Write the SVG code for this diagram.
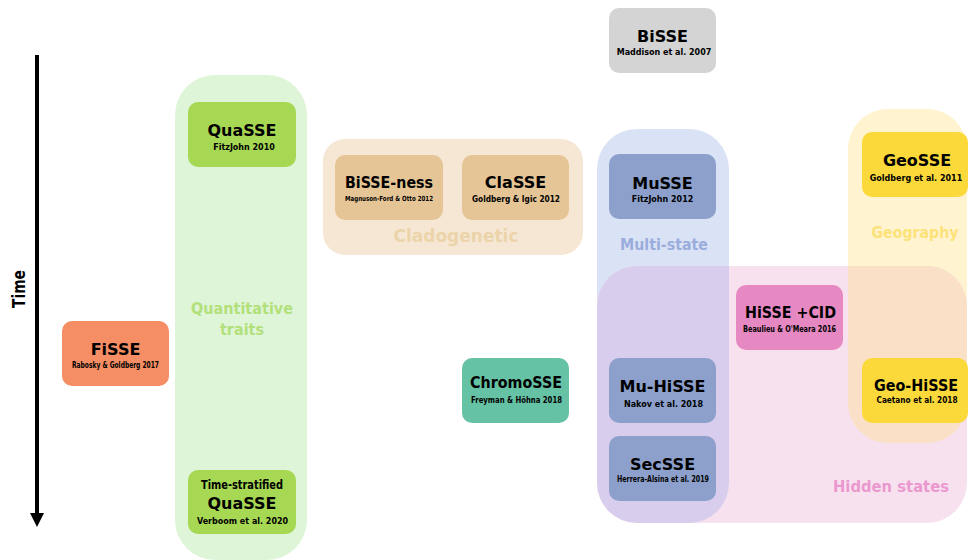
<svg xmlns="http://www.w3.org/2000/svg" width="968" height="560" viewBox="0 0 968 560">
<defs>
<style>
text{font-family:"DejaVu Sans","Liberation Sans",sans-serif;font-weight:bold;text-anchor:middle;}
.t{font-size:16px;fill:#000;}
.s{font-size:8px;fill:#000;}
.lab{font-size:16px;}
.box{stroke:none;}
</style>
<clipPath id="clipBlue"><rect x="597" y="129" width="132" height="394" rx="40"/></clipPath>
<clipPath id="clipYellow"><rect x="848" y="109" width="119" height="334" rx="40"/></clipPath>
</defs>
<rect width="968" height="560" fill="#fff"/>

<g id="groups">
<rect id="g-quant" x="175" y="75" width="132" height="485" rx="40" fill="#dff5d8"/>
<rect id="g-clado" x="323" y="139" width="260" height="116" rx="22" fill="#f5e7d4"/>
<rect id="g-multi" x="597" y="129" width="132" height="394" rx="40" fill="#dae2f6"/>
<rect id="g-geo" x="848" y="109" width="119" height="334" rx="40" fill="#fff4cf"/>
<rect id="g-hidden" x="597" y="266" width="370" height="257" rx="40" fill="#f8e1ef"/>
<rect x="597" y="266" width="370" height="257" rx="40" fill="#d8cdec" clip-path="url(#clipBlue)"/>
<rect x="597" y="266" width="370" height="257" rx="40" fill="#f9e0c6" clip-path="url(#clipYellow)"/>
<text class="lab" x="242" y="314" fill="#b2e07a" textLength="102" lengthAdjust="spacingAndGlyphs">Quantitative</text>
<text class="lab" x="242" y="335" fill="#b2e07a" textLength="44" lengthAdjust="spacingAndGlyphs">traits</text>
<text x="456" y="242" fill="#ecd4aa" style="font-size:17px">Cladogenetic</text>
<text class="lab" x="664" y="250" fill="#9aaddc" textLength="88" lengthAdjust="spacingAndGlyphs">Multi-state</text>
<text class="lab" x="915" y="238" fill="#fde27a" textLength="87" lengthAdjust="spacingAndGlyphs">Geography</text>
<text class="lab" x="891" y="492" fill="#eb98cf" textLength="116" lengthAdjust="spacingAndGlyphs">Hidden states</text>
</g>

<g id="connectors">
<line x1="37" y1="55" x2="37" y2="515" stroke="#000" stroke-width="4"/>
<polygon points="30,513 44,513 37,527" fill="#000"/>
</g>
<text transform="translate(25,289) rotate(-90)" style="font-size:17px" textLength="38" lengthAdjust="spacingAndGlyphs">Time</text>

<g id="n-bisse">
<rect class="box" x="609" y="8" width="107" height="65" rx="10" fill="#d4d4d4"/>
<text class="t" x="662.5" y="42">BiSSE</text>
<text class="s" x="664" y="55">Maddison et al. 2007</text>
</g>

<g id="n-fisse">
<rect class="box" x="62" y="321" width="107" height="65" rx="10" fill="#f58e64"/>
<text class="t" x="115.5" y="355">FiSSE</text>
<text class="s" x="115.5" y="368" textLength="87" lengthAdjust="spacingAndGlyphs">Rabosky &amp; Goldberg 2017</text>
</g>

<g id="n-quasse">
<rect class="box" x="188" y="102" width="108" height="65" rx="10" fill="#a7d854"/>
<text class="t" x="242" y="136">QuaSSE</text>
<text class="s" x="244" y="150">FitzJohn 2010</text>
</g>

<g id="n-tsquasse">
<rect class="box" x="188" y="470" width="108" height="64" rx="10" fill="#a7d854"/>
<text x="242" y="489" style="font-size:12px" textLength="82" lengthAdjust="spacingAndGlyphs">Time-stratified</text>
<text class="t" x="242" y="509">QuaSSE</text>
<text class="s" x="242.5" y="524">Verboom et al. 2020</text>
</g>

<g id="n-bisseness">
<rect class="box" x="335" y="155" width="108" height="65" rx="10" fill="#e5c595"/>
<text class="t" x="389" y="188" textLength="88" lengthAdjust="spacingAndGlyphs">BiSSE-ness</text>
<text class="s" x="389" y="201" style="font-size:7px" textLength="88" lengthAdjust="spacingAndGlyphs">Magnuson-Ford &amp; Otto 2012</text>
</g>

<g id="n-classe">
<rect class="box" x="462" y="155" width="107" height="65" rx="10" fill="#e5c595"/>
<text class="t" x="515.5" y="188">ClaSSE</text>
<text class="s" x="516" y="202" textLength="88" lengthAdjust="spacingAndGlyphs">Goldberg &amp; Igic 2012</text>
</g>

<g id="n-musse">
<rect class="box" x="609" y="154" width="107" height="65" rx="10" fill="#8ca0cb"/>
<text class="t" x="662.5" y="189">MuSSE</text>
<text class="s" x="662.5" y="202">FitzJohn 2012</text>
</g>

<g id="n-geosse">
<rect class="box" x="862" y="132" width="106" height="65" rx="10" fill="#fcd93a"/>
<text class="t" x="917" y="166">GeoSSE</text>
<text class="s" x="916" y="181">Goldberg et al. 2011</text>
</g>

<g id="n-hissecid">
<rect class="box" x="736" y="285" width="107" height="65" rx="10" fill="#e689c3"/>
<text class="t" x="790.5" y="318" textLength="91" lengthAdjust="spacingAndGlyphs">HiSSE +CID</text>
<text class="s" x="789.5" y="332" textLength="93" lengthAdjust="spacingAndGlyphs">Beaulieu &amp; O'Meara 2016</text>
</g>

<g id="n-chromosse">
<rect class="box" x="462" y="358" width="107" height="65" rx="10" fill="#66c2a5"/>
<text class="t" x="516" y="388" textLength="92" lengthAdjust="spacingAndGlyphs">ChromoSSE</text>
<text class="s" x="516.5" y="403" textLength="91" lengthAdjust="spacingAndGlyphs">Freyman &amp; Höhna 2018</text>
</g>

<g id="n-muhisse">
<rect class="box" x="609" y="358" width="107" height="65" rx="10" fill="#8ca0cb"/>
<text class="t" x="662.5" y="392">Mu-HiSSE</text>
<text class="s" x="663.5" y="407">Nakov et al. 2018</text>
</g>

<g id="n-geohisse">
<rect class="box" x="862" y="358" width="106" height="65" rx="10" fill="#fcd93a"/>
<text class="t" x="916" y="391" textLength="84" lengthAdjust="spacingAndGlyphs">Geo-HiSSE</text>
<text class="s" x="917" y="403" textLength="81" lengthAdjust="spacingAndGlyphs">Caetano et al. 2018</text>
</g>

<g id="n-secsse">
<rect class="box" x="609" y="436" width="107" height="65" rx="10" fill="#8ca0cb"/>
<text class="t" x="662.5" y="470">SecSSE</text>
<text class="s" x="663" y="482" textLength="92" lengthAdjust="spacingAndGlyphs">Herrera-Alsina et al. 2019</text>
</g>
</svg>
